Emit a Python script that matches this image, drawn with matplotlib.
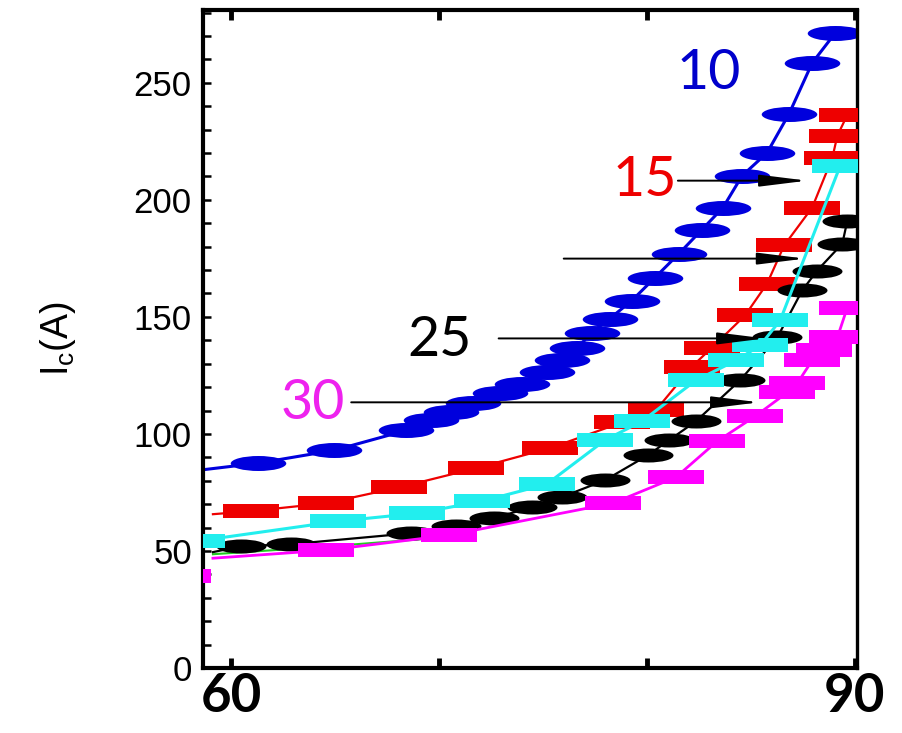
import numpy as np
import matplotlib
matplotlib.use("Agg")
import matplotlib.pyplot as plt
from matplotlib.path import Path
from matplotlib.transforms import Affine2D
from matplotlib.ticker import MultipleLocator, FixedLocator, FixedFormatter

# ---------------- data ----------------
x10 = [58.0, 61.30, 64.96, 68.43, 69.64, 70.60, 71.66, 72.92, 73.98, 75.18, 75.90, 76.63,
       77.35, 78.22, 79.28, 80.39, 81.54, 82.65, 83.66, 84.58, 85.78, 86.84, 87.95, 89.06]
y10 = [84.0, 87.5, 93.0, 101.5, 105.8, 109.2, 113.1, 117.3, 121.2, 126.3, 131.4, 136.5,
       143.3, 149.3, 157.0, 166.8, 177.0, 187.3, 196.7, 210.3, 220.1, 236.8, 258.5, 271.3]

x15 = [59.13, 60.96, 64.58, 68.10, 71.76, 75.33, 78.80, 80.43, 82.17, 83.13, 84.72, 85.78,
       86.60, 87.95, 88.92, 89.16, 89.64]
y15 = [65.7, 67.0, 70.4, 77.2, 85.3, 93.9, 104.9, 110.1, 128.8, 136.9, 150.6, 164.2,
       180.5, 196.7, 218.0, 227.4, 236.3]

x20 = [58.36, 65.16, 68.96, 72.05, 75.18, 77.98, 79.76, 82.36, 84.29, 85.45, 86.41, 89.30]
y20 = [54.2, 62.7, 66.1, 71.2, 78.5, 97.3, 105.4, 122.9, 131.4, 137.8, 148.5, 214.6]

x25 = [59.13, 60.48, 62.89, 68.67, 70.84, 72.63, 74.46, 75.90, 77.98, 80.05, 81.06, 82.36,
       84.48, 86.27, 87.47, 88.19, 89.40, 89.64]
y25 = [49.5, 52.0, 52.9, 57.6, 60.6, 64.0, 68.7, 73.0, 80.2, 90.9, 97.3, 105.4,
       122.9, 141.2, 161.3, 169.8, 181.3, 191.1]

x30 = [59.13, 64.58, 70.46, 78.36, 81.40, 83.37, 85.20, 86.75, 87.23, 87.95, 88.53, 89.16, 89.64]
y30 = [46.9, 50.3, 56.7, 70.4, 81.5, 96.8, 107.5, 117.7, 121.6, 131.4, 135.7, 141.2, 154.0]
x30_extra = [57.7]
y30_extra = [39.2]

xgreen = [59.13, 64.0, 70.0]
ygreen = [48.6, 51.5, 55.6]

labels = ["10", "15", "25", "30"]
label_x = [82.99, 79.9, 70.02, 63.95]
label_y = [253.8, 208.2, 139.9, 113.0]
label_colors = ["#0000cc", "#ee0000", "black", "#ee22ee"]

arrow_start_x = [81.49, 76.0, 72.87, 65.78]
arrow_end_x = [87.71, 87.6, 85.69, 85.40]
arrow_y = [208.2, 174.9, 140.8, 113.5]

x_ticks = [60, 70, 80, 90]
x_ticklabels = ["60", "", "", "90"]
y_ticks = [0, 50, 100, 150, 200, 250]

# ---------------- marker shapes ----------------
ellipse = Path.unit_circle().transformed(Affine2D().scale(1.0, 0.27))
rect = Path([(-1, -0.26), (1, -0.26), (1, 0.26), (-1, 0.26), (-1, -0.26)],
            [Path.MOVETO, Path.LINETO, Path.LINETO, Path.LINETO, Path.CLOSEPOLY])
ellipse_b = Path.unit_circle().transformed(Affine2D().scale(1.0, 0.28))

fig = plt.figure(figsize=(9.02, 7.33), dpi=100)
ax = fig.add_axes([0.225, 0.0887, 0.725, 0.8973])

# blue (10)
ax.plot(x10, y10, color="#0000dd", lw=2.2, marker=ellipse, markersize=40,
        markeredgewidth=0, markevery=list(range(1, len(x10))), zorder=2)
# red (15)
ax.plot(x15, y15, color="#ee0000", lw=1.6, marker=rect, markersize=41,
        markeredgewidth=0, markevery=list(range(1, len(x15))), zorder=3)
# green thin line under black
ax.plot(xgreen, ygreen, color="#22cc22", lw=1.5, zorder=3)
# black (25)
ax.plot(x25, y25, color="black", lw=1.6, marker=ellipse_b, markersize=36,
        markeredgewidth=0, markevery=list(range(1, len(x25))), zorder=4)
# cyan
ax.plot(x20, y20, color="#22eeee", lw=2.2, marker=rect, markersize=40,
        markeredgewidth=0, zorder=5)
# magenta (30)
ax.plot(x30, y30, color="#ff00ff", lw=2.0, marker=rect, markersize=40,
        markeredgewidth=0, markevery=list(range(1, len(x30))), zorder=6)
ax.plot(x30_extra, y30_extra, linestyle="none", color="#ff00ff", marker=rect,
        markersize=40, markeredgewidth=0, zorder=6)

# arrows
for xs, xe, yy in zip(arrow_start_x, arrow_end_x, arrow_y):
    ax.annotate("", xy=(xe, yy), xytext=(xs, yy),
                arrowprops=dict(arrowstyle="-|>,head_length=2.9,head_width=0.36",
                                color="black", lw=1.4, shrinkA=0, shrinkB=0),
                zorder=8)

# labels
for t, lx, ly, c in zip(labels, label_x, label_y, label_colors):
    ax.text(lx, ly, t, color=c, fontsize=40, family="Lato", ha="center",
            va="center", zorder=9)

ax.set_xlim(58.65, 90.1)
ax.set_ylim(0, 281)

# axes style
for s in ["left", "top", "bottom"]:
    ax.spines[s].set_linewidth(3.0)
ax.spines["right"].set_linewidth(2.4)

ax.xaxis.set_major_locator(FixedLocator(x_ticks))
ax.xaxis.set_major_formatter(FixedFormatter(x_ticklabels))
ax.tick_params(axis="x", which="major", direction="in", length=7, width=3.5,
               top=True, bottom=True, pad=3)
for lab in ax.get_xticklabels():
    lab.set_fontsize(38)
    lab.set_fontweight("bold")
    lab.set_family("Lato")

ax.yaxis.set_major_locator(FixedLocator(y_ticks))
ax.yaxis.set_minor_locator(MultipleLocator(10))
ax.tick_params(axis="y", which="both", direction="in", length=6, width=1.8,
               left=True, right=False, pad=8)
for lab in ax.get_yticklabels():
    lab.set_fontsize(25)
    lab.set_family("Liberation Sans")

ax.set_ylabel(r"$\mathregular{I_c(A)}$", fontsize=27, family="Liberation Sans",
              labelpad=40)

fig.savefig("out.png", dpi=100)
